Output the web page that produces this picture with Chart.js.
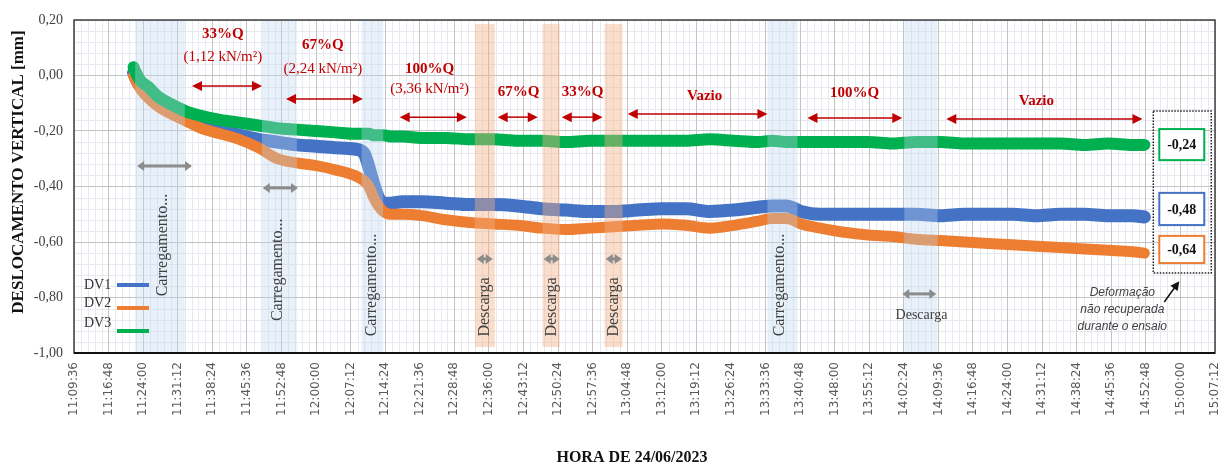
<!DOCTYPE html>
<html lang="pt-BR">
<head>
<meta charset="UTF-8">
<title>Deslocamento vertical DV1 / DV2 / DV3</title>
<script src="https://cdn.jsdelivr.net/npm/chart.js@4.4.1/dist/chart.umd.min.js"></script>
<style>
    html, body { margin: 0; padding: 0; background: #ffffff; }
    .chart-box { width: 1218px; height: 471px; }
</style>
</head>
<body>
<div class="chart-box"><canvas id="dvChart" width="1218" height="471"></canvas></div>
<script>
    // leituras (hora do ensaio) e deslocamentos em mm
    const horas = ['11:22:00','11:22:30','11:23:30','11:25:00','11:27:00','11:30:00','11:33:00','11:36:00','11:40:00','11:44:00',
                   '11:48:00','11:52:00','11:56:00','12:00:00','12:04:00','12:08:00','12:10:00','12:11:00','12:12:00','12:13:00',
                   '12:14:00','12:15:30','12:18:00','12:22:00','12:27:00','12:32:00','12:37:00','12:42:00','12:47:00','12:52:00',
                   '12:57:00','13:02:00','13:07:00','13:12:00','13:17:00','13:22:00','13:27:00','13:32:00','13:35:00','13:38:00',
                   '13:41:00','13:45:00','13:50:00','13:55:00','14:00:00','14:05:00','14:10:00','14:15:00','14:20:00','14:25:00',
                   '14:30:00','14:35:00','14:40:00','14:45:00','14:50:00','14:52:30'];

    const dv1 = [0.01,-0.01,-0.04,-0.07,-0.10,-0.13,-0.155,-0.175,-0.195,-0.215,
                 -0.23,-0.24,-0.25,-0.255,-0.26,-0.265,-0.28,-0.33,-0.39,-0.44,
                 -0.46,-0.46,-0.455,-0.455,-0.46,-0.465,-0.465,-0.47,-0.48,-0.485,
                 -0.49,-0.49,-0.485,-0.48,-0.48,-0.49,-0.485,-0.475,-0.47,-0.47,
                 -0.49,-0.50,-0.50,-0.50,-0.50,-0.50,-0.505,-0.50,-0.50,-0.50,
                 -0.505,-0.50,-0.50,-0.505,-0.505,-0.51];

    const dv2 = [0.0,-0.02,-0.05,-0.08,-0.11,-0.14,-0.165,-0.19,-0.21,-0.23,
                 -0.26,-0.30,-0.315,-0.325,-0.34,-0.36,-0.38,-0.40,-0.44,-0.47,
                 -0.49,-0.50,-0.50,-0.505,-0.52,-0.53,-0.535,-0.54,-0.55,-0.555,
                 -0.55,-0.545,-0.54,-0.535,-0.54,-0.55,-0.54,-0.525,-0.515,-0.515,
                 -0.535,-0.55,-0.565,-0.575,-0.58,-0.59,-0.595,-0.60,-0.605,-0.61,
                 -0.615,-0.62,-0.625,-0.63,-0.635,-0.64];

    const dv3 = [0.03,0.01,-0.02,-0.04,-0.075,-0.105,-0.13,-0.145,-0.16,-0.17,
                 -0.18,-0.19,-0.195,-0.20,-0.205,-0.21,-0.21,-0.21,-0.215,-0.215,
                 -0.215,-0.22,-0.22,-0.225,-0.225,-0.23,-0.23,-0.235,-0.235,-0.24,
                 -0.235,-0.235,-0.235,-0.235,-0.235,-0.23,-0.235,-0.24,-0.235,-0.24,
                 -0.24,-0.24,-0.24,-0.24,-0.245,-0.24,-0.24,-0.245,-0.245,-0.245,
                 -0.245,-0.245,-0.25,-0.245,-0.25,-0.25];

    const horaTicks = ['11:09:36','11:16:48','11:24:00','11:31:12','11:38:24','11:45:36','11:52:48','12:00:00','12:07:12',
                       '12:14:24','12:21:36','12:28:48','12:36:00','12:43:12','12:50:24','12:57:36','13:04:48','13:12:00',
                       '13:19:12','13:26:24','13:33:36','13:40:48','13:48:00','13:55:12','14:02:24','14:09:36','14:16:48',
                       '14:24:00','14:31:12','14:38:24','14:45:36','14:52:48','15:00:00','15:07:12'];
    const yTicks = [0.2, 0, -0.2, -0.4, -0.6, -0.8, -1.0];

    // faixas de carregamento (azul) e descarga (laranja)
    const faixasAzuis = [['11:22:20','11:32:40'], ['11:48:45','11:56:00'], ['12:09:30','12:14:00'], ['13:34:00','13:40:15'], ['14:02:30','14:09:25']];
    const faixasLaranja = [['12:33:05','12:37:15'], ['12:47:10','12:50:45'], ['13:00:05','13:03:50']];

    // etapas de carga: [inicio seta, fim seta, y seta, texto, x texto, y texto, carga, y carga]
    const etapas = [
        ['11:34:10','11:48:45',-0.038,'33%Q','11:40:36',0.15,'(1,12 kN/m²)',0.067],
        ['11:53:45','12:09:45',-0.085,'67%Q','12:01:25',0.11,'(2,24 kN/m²)',0.023],
        ['12:17:25','12:31:25',-0.15,'100%Q','12:23:40',0.023,'(3,36 kN/m²)',-0.049],
        ['12:37:50','12:46:10',-0.15,'67%Q','12:42:10',-0.061],
        ['12:51:10','12:59:40',-0.15,'33%Q','12:55:30',-0.061],
        ['13:04:55','13:34:00',-0.139,'Vazio','13:20:55',-0.074],
        ['13:42:20','14:02:05',-0.153,'100%Q','13:52:10',-0.063],
        ['14:11:15','14:52:05',-0.157,'Vazio','14:30:00',-0.092]
    ];

    const setasCinza = [['11:22:45','11:34:10',-0.326], ['11:48:55','11:56:15',-0.405], ['12:33:28','12:36:48',-0.661],
                        ['12:47:24','12:50:44',-0.661], ['13:00:19','13:03:39',-0.661], ['14:02:05','14:09:10',-0.787]];

    const rotulosVerticais = [['Carregamento...','11:28:05',-0.611], ['Carregamento...','11:52:05',-0.70], ['Carregamento...','12:11:35',-0.755],
                              ['Descarga','12:35:08',-0.834], ['Descarga','12:49:04',-0.834], ['Descarga','13:01:59',-0.834],
                              ['Carregamento...','13:36:30',-0.755]];

    // deformação final não recuperada
    const finais = [['-0,24', -0.193, -0.305, '#00B050'], ['-0,48', -0.423, -0.539, '#4472C4'], ['-0,64', -0.578, -0.676, '#ED7D31']];
    const nota = ['Deformação', 'não recuperada', 'durante o ensaio'];

    const cores = { dv1: '#4472C4', dv2: '#ED7D31', dv3: '#00B050' };

    function toSec(h) {
        const p = h.split(':').map(Number);
        return p[0] * 3600 + p[1] * 60 + (p[2] || 0);
    }

    function seta(ctx, x1, x2, yy, cor, larg, ponta, meia) {
        ctx.strokeStyle = cor;
        ctx.fillStyle = cor;
        ctx.lineWidth = larg;
        ctx.beginPath();
        ctx.moveTo(x1 + ponta - 1, yy);
        ctx.lineTo(x2 - ponta + 1, yy);
        ctx.stroke();
        ctx.beginPath();
        ctx.moveTo(x1, yy); ctx.lineTo(x1 + ponta, yy - meia); ctx.lineTo(x1 + ponta, yy + meia);
        ctx.closePath(); ctx.fill();
        ctx.beginPath();
        ctx.moveTo(x2, yy); ctx.lineTo(x2 - ponta, yy - meia); ctx.lineTo(x2 - ponta, yy + meia);
        ctx.closePath(); ctx.fill();
    }

    function textoVertical(ctx, txt, px, py) {
        ctx.save();
        ctx.translate(px, py);
        ctx.rotate(-Math.PI / 2);
        ctx.fillText(txt, 0, 0);
        ctx.restore();
    }

    const anotacoes = {
        id: 'anotacoes',
        beforeDraw(chart) {
            const { ctx, chartArea: a, scales: { x, y } } = chart;
            ctx.save();
            ctx.fillStyle = '#ffffff';
            ctx.fillRect(0, 0, chart.width, chart.height);
            // grade secundária
            ctx.strokeStyle = '#e6eaf0';
            ctx.lineWidth = 1;
            ctx.beginPath();
            const t0 = toSec(horaTicks[0]);
            for (let i = 1; i < (horaTicks.length - 1) * 5; i++) {
                if (i % 5 === 0) continue;
                const px = Math.round(x.getPixelForValue(t0 + i * 86.4)) + 0.5;
                ctx.moveTo(px, a.top); ctx.lineTo(px, a.bottom);
            }
            const v0 = yTicks[yTicks.length - 1];
            for (let i = 1; i < (yTicks.length - 1) * 5; i++) {
                if (i % 5 === 0) continue;
                const py = Math.round(y.getPixelForValue(v0 + i * 0.04)) + 0.5;
                ctx.moveTo(a.left, py); ctx.lineTo(a.right, py);
            }
            ctx.stroke();
            ctx.restore();
        },
        afterDatasetsDraw(chart) {
            const { ctx, chartArea: a, scales: { x, y } } = chart;
            const X = h => x.getPixelForValue(toSec(h));
            const Y = v => y.getPixelForValue(v);
            ctx.save();

            // faixas
            ctx.fillStyle = 'rgba(189, 215, 238, 0.35)';
            faixasAzuis.forEach(f => ctx.fillRect(X(f[0]), a.top, X(f[1]) - X(f[0]), a.bottom - a.top));
            ctx.fillStyle = 'rgba(244, 177, 131, 0.42)';
            faixasLaranja.forEach(f => ctx.fillRect(X(f[0]), a.top + 4, X(f[1]) - X(f[0]), a.bottom - a.top - 10));

            // moldura
            ctx.strokeStyle = '#404040';
            ctx.lineWidth = 1.5;
            ctx.strokeRect(a.left, a.top, a.right - a.left, a.bottom - a.top);
            ctx.strokeStyle = '#111111';
            ctx.lineWidth = 2;
            ctx.beginPath(); ctx.moveTo(a.left, a.bottom); ctx.lineTo(a.right, a.bottom); ctx.stroke();

            // etapas de carga (vermelho)
            ctx.textAlign = 'center';
            ctx.textBaseline = 'middle';
            etapas.forEach(e => {
                seta(ctx, X(e[0]), X(e[1]), Y(e[2]), '#C00000', 1.5, 10, 5);
                ctx.fillStyle = '#C00000';
                ctx.font = 'bold 15px "Liberation Serif"';
                ctx.fillText(e[3], X(e[4]), Y(e[5]));
                if (e[6]) {
                    ctx.font = '15px "Liberation Serif"';
                    ctx.fillText(e[6], X(e[4]), Y(e[7]));
                }
            });

            // setas cinza
            setasCinza.forEach(s => seta(ctx, X(s[0]), X(s[1]), Y(s[2]), '#8c8c8c', 3, 7, 5));

            // rótulos verticais
            ctx.fillStyle = '#404040';
            ctx.font = '16px "Liberation Serif"';
            rotulosVerticais.forEach(r => textoVertical(ctx, r[0], X(r[1]), Y(r[2])));
            ctx.font = '14px "Liberation Serif"';
            ctx.fillText('Descarga', X('14:06:05'), Y(-0.863));

            // legenda
            ctx.textAlign = 'left';
            ctx.font = '14px "Liberation Serif"';
            const leg = [['DV1', cores.dv1, 68, 68], ['DV2', cores.dv2, 50, 45], ['DV3', cores.dv3, 30, 22]];
            leg.forEach(l => {
                ctx.fillStyle = '#333333';
                ctx.fillText(l[0], a.left + 10, a.bottom - l[2]);
                ctx.strokeStyle = l[1];
                ctx.lineWidth = 4;
                ctx.beginPath();
                ctx.moveTo(a.left + 43, a.bottom - l[3]);
                ctx.lineTo(a.left + 75, a.bottom - l[3]);
                ctx.stroke();
            });

            // caixa pontilhada e valores finais
            ctx.setLineDash([1.5, 1.5]);
            ctx.strokeStyle = '#222222';
            ctx.lineWidth = 1.5;
            ctx.strokeRect(X('14:54:21'), Y(-0.128), X('15:06:25') - X('14:54:21'), Y(-0.712) - Y(-0.128));
            ctx.setLineDash([]);
            ctx.textAlign = 'center';
            ctx.font = 'bold 14px "Liberation Serif"';
            finais.forEach(f => {
                const x1 = X('14:55:36'), x2 = X('15:04:58');
                ctx.fillStyle = '#ffffff';
                ctx.fillRect(x1, Y(f[1]), x2 - x1, Y(f[2]) - Y(f[1]));
                ctx.strokeStyle = f[3];
                ctx.lineWidth = 2;
                ctx.strokeRect(x1, Y(f[1]), x2 - x1, Y(f[2]) - Y(f[1]));
                ctx.fillStyle = '#111111';
                ctx.fillText(f[0], (x1 + x2) / 2, (Y(f[1]) + Y(f[2])) / 2 + 1);
            });

            // seta preta e nota
            const ax1 = X('14:56:38'), ay1 = Y(-0.816), ax2 = X('14:59:46'), ay2 = Y(-0.741);
            const ang = Math.atan2(ay2 - ay1, ax2 - ax1);
            ctx.strokeStyle = '#111111';
            ctx.fillStyle = '#111111';
            ctx.lineWidth = 1.5;
            ctx.beginPath(); ctx.moveTo(ax1, ay1); ctx.lineTo(ax2 - 6 * Math.cos(ang), ay2 - 6 * Math.sin(ang)); ctx.stroke();
            ctx.beginPath();
            ctx.moveTo(ax2, ay2);
            ctx.lineTo(ax2 - 9 * Math.cos(ang) + 4.5 * Math.sin(ang), ay2 - 9 * Math.sin(ang) - 4.5 * Math.cos(ang));
            ctx.lineTo(ax2 - 9 * Math.cos(ang) - 4.5 * Math.sin(ang), ay2 - 9 * Math.sin(ang) + 4.5 * Math.cos(ang));
            ctx.closePath(); ctx.fill();

            ctx.fillStyle = '#404040';
            ctx.font = 'italic 12px "Liberation Sans"';
            [-0.784, -0.845, -0.906].forEach((v, i) => ctx.fillText(nota[i], X('14:47:54'), Y(v)));

            // títulos dos eixos
            ctx.fillStyle = '#111111';
            ctx.font = 'bold 16px "Liberation Serif"';
            ctx.fillText('HORA DE 24/06/2023', 632, 458);
            ctx.font = 'bold 17px "Liberation Serif"';
            textoVertical(ctx, 'DESLOCAMENTO VERTICAL [mm]', 19, 172);

            ctx.restore();
        }
    };

    function serie(label, valores, cor, largura, ordem) {
        return {
            label: label,
            data: horas.map((h, i) => ({ x: toSec(h), y: valores[i] })),
            borderColor: cor,
            backgroundColor: cor,
            borderWidth: largura,
            borderJoinStyle: 'round',
            borderCapStyle: 'round',
            pointRadius: 0,
            cubicInterpolationMode: 'monotone',
            fill: false,
            order: ordem
        };
    }

    new Chart(document.getElementById('dvChart'), {
        type: 'line',
        data: {
            datasets: [
                serie('DV1', dv1, cores.dv1, 13, 3),
                serie('DV2', dv2, cores.dv2, 11, 2),
                serie('DV3', dv3, cores.dv3, 12, 1)
            ]
        },
        options: {
            responsive: false,
            animation: false,
            devicePixelRatio: 1,
            layout: { padding: { top: 20, right: 3, bottom: 0, left: 0 } },
            plugins: { legend: { display: false }, tooltip: { enabled: false } },
            scales: {
                x: {
                    type: 'linear',
                    min: toSec(horaTicks[0]),
                    max: toSec(horaTicks[horaTicks.length - 1]),
                    afterBuildTicks: s => { s.ticks = horaTicks.map(h => ({ value: toSec(h) })); },
                    afterFit: s => { s.height = 118; s.paddingLeft = 0; s.paddingRight = 0; },
                    ticks: {
                        autoSkip: false,
                        minRotation: 90,
                        maxRotation: 90,
                        padding: 9,
                        color: '#5a5a5a',
                        font: { family: 'DejaVu Sans', size: 12 },
                        callback: (v, i) => horaTicks[i]
                    },
                    grid: { color: '#c4c4c4', drawTicks: false },
                    border: { display: false }
                },
                y: {
                    min: -1,
                    max: 0.2,
                    afterBuildTicks: s => { s.ticks = yTicks.map(v => ({ value: v })); },
                    afterFit: s => { s.width = 74; s.paddingTop = 0; s.paddingBottom = 0; },
                    ticks: {
                        padding: 11,
                        color: '#404040',
                        font: { family: 'Liberation Serif', size: 14 },
                        callback: v => v.toFixed(2).replace('.', ',')
                    },
                    grid: { color: '#c4c4c4', drawTicks: false },
                    border: { display: false }
                }
            }
        },
        plugins: [anotacoes]
    });
</script>
</body>
</html>
